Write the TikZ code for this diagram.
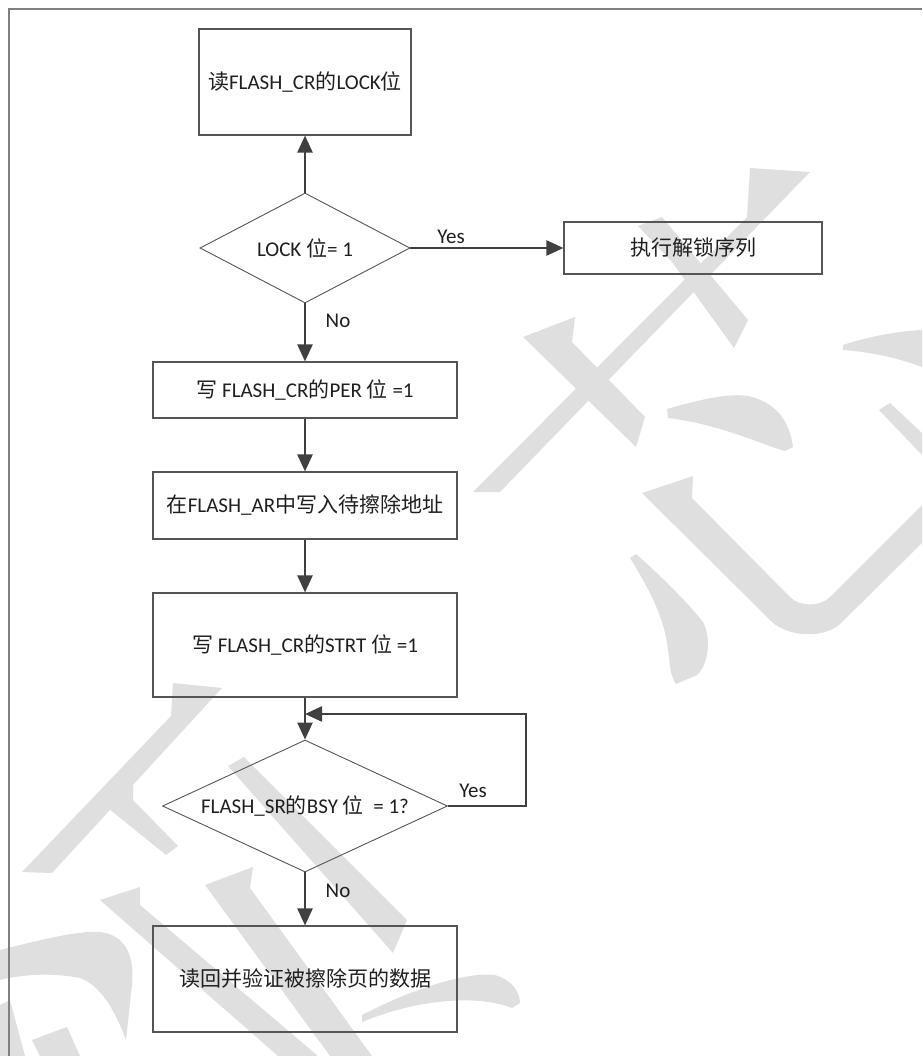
\documentclass[tikz,border=0pt]{standalone}
\usepackage{fontspec}
\setmainfont{Carlito}
\newfontfamily\cjk{Noto Sans CJK SC}
\usetikzlibrary{arrows.meta,shapes.geometric}
\definecolor{wm}{RGB}{223,223,223}
\definecolor{edge}{RGB}{85,85,85}
\definecolor{flow}{RGB}{64,64,64}
\definecolor{frame}{RGB}{128,128,128}
\newcommand{\zh}[1]{{\cjk #1}}

\begin{document}
\begin{tikzpicture}[x=1pt,y=-1pt,
  every node/.style={font=\fontsize{21}{25}\selectfont, text=black!88},
  procbox/.style={draw=edge, line width=1.1pt, rectangle, inner sep=0pt},
  decision/.style={draw=edge, line width=0.9pt, diamond, inner sep=0pt},
  flowline/.style={draw=flow, line width=2.4pt, -{Triangle[length=17pt,width=15pt]}},
  tag/.style={inner sep=0pt}]
\useasboundingbox (0,0) rectangle (922,1056);

% background watermark strokes
\begin{scope}[fill=wm]
  % right character
  \fill (750,168) -- (810,172) -- (500,492) -- (473,492) -- (747,217) -- cycle;
  \fill (638,226) -- (662,217) -- (748,320) -- (734,348) -- (672,262) -- cycle;
  \fill (523,337) -- (575,317) -- (572,342) -- (645,417) -- (636,447) -- cycle;
  \fill (667,409) .. controls (705,398) and (735,392) .. (752,397)
        .. controls (780,405) and (790,425) .. (793,447) -- (785,451)
        .. controls (765,446) and (720,424) .. (668,418) -- cycle;
  \fill (843,345) .. controls (870,336) and (900,331) .. (922,330) -- (922,367)
        .. controls (895,357) and (870,352) .. (843,350) -- cycle;
  \fill (879,410) -- (890,403) -- (922,433) -- (922,455) -- cycle;
  \fill (642,493) -- (693,476) -- (692,498) -- (790,597)
        .. controls (800,607) and (820,607) .. (830,597) -- (922,505) -- (922,543)
        -- (840,624) .. controls (825,638) and (790,638) .. (772,622) -- cycle;
  \fill (630,558) -- (636,554) .. controls (660,575) and (690,605) .. (703,622)
        .. controls (712,640) and (708,665) .. (697,675) -- (676,684)
        .. controls (670,675) and (670,665) .. (668,650)
        .. controls (665,620) and (650,590) .. (630,558) -- cycle;
  % left character
  \fill (173,683) -- (222,688) -- (52,873) -- (22,872) -- (171,716) -- cycle;
  \fill (103,804) -- (133,777) -- (133,800) -- (178,846) -- (166,855) -- cycle;
  \fill (100,900) -- (140,887) -- (140,905) -- (318,1056) -- (278,1056) -- cycle;
  \fill (205,885) -- (253,867) -- (250,888) -- (372,1056) -- (330,1056) -- cycle;
  \fill (228,766) -- (244,757) -- (407,920) -- (393,953) -- cycle;
  \fill (362,1015) .. controls (420,985) and (470,972) .. (495,975)
        .. controls (512,980) and (520,992) .. (520,1003) -- (512,1008)
        .. controls (480,995) and (420,998) .. (362,1022) -- cycle;
  \fill (0,950) .. controls (40,940) and (80,930) .. (100,932)
        .. controls (125,935) and (135,955) .. (132,985) -- (126,1040)
        .. controls (115,1010) and (100,985) .. (80,978)
        .. controls (50,972) and (20,975) .. (0,980) -- cycle;
  \fill (32,1040) -- (67,1027) -- (80,1056) -- (40,1056) -- cycle;
  \fill (0,1005) -- (10,1000) -- (25,1056) -- (0,1056) -- cycle;
\end{scope}

% page frame
\draw[frame, line width=1.5pt] (9,1056) -- (9,9) -- (922,9);

% flowchart nodes
\node[procbox, minimum width=212pt, minimum height=106pt] (read) at (305,82)
  {\zh{读}FLASH\_CR\zh{的}LOCK\zh{位}};
\node[decision, minimum width=210pt, minimum height=110pt, aspect=1.9] (lock) at (305,248)
  {LOCK \zh{位}= 1};
\node[procbox, minimum width=258pt, minimum height=52pt] (unlock) at (693,248)
  {\zh{执行解锁序列}};
\node[procbox, minimum width=304pt, minimum height=56pt] (per) at (305,390)
  {\zh{写} FLASH\_CR\zh{的}PER \zh{位} =1};
\node[procbox, minimum width=304pt, minimum height=67pt] (addr) at (305,505.5)
  {\zh{在}FLASH\_AR\zh{中写入待擦除地址}};
\node[procbox, minimum width=304pt, minimum height=104pt] (strt) at (305,645)
  {\zh{写} FLASH\_CR\zh{的}STRT \zh{位} =1};
\node[decision, minimum width=285pt, minimum height=132pt, aspect=2.16] (bsy) at (305,806)
  {FLASH\_SR\zh{的}BSY \zh{位}\ \ = 1?};
\node[procbox, minimum width=304pt, minimum height=106pt] (verify) at (305,979)
  {\zh{读回并验证被擦除页的数据}};

% connectors
\coordinate (loop) at (305,714);
\draw[flowline] (lock.north) -- (read.south);
\draw[flowline] (lock.east) -- (unlock.west);
\draw[flowline] (lock.south) -- (per.north);
\draw[flowline] (per.south) -- (addr.north);
\draw[flowline] (addr.south) -- (strt.north);
\draw[flowline] (strt.south) -- (bsy.north);
\draw[flowline] (bsy.east) -- ++(78,0) |- (loop);
\draw[flowline] (bsy.south) -- (verify.north);

% branch labels
\node[tag] (yes1) at (451,237) {Yes};
\node[tag] (no1) at (338,321) {No};
\node[tag] (yes2) at (473,791) {Yes};
\node[tag] (no2) at (338,891) {No};
\end{tikzpicture}
\end{document}
